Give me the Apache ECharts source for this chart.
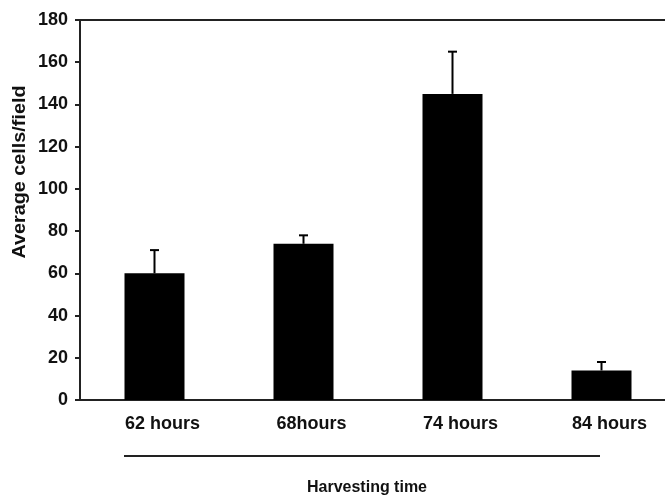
<!DOCTYPE html>
<html>
<head>
<meta charset="utf-8">
<script src="https://cdn.jsdelivr.net/npm/echarts@6/dist/echarts.min.js"></script>
<style>html,body{margin:0;padding:0;background:#fff;}#c{width:665px;height:497px;}</style>
</head>
<body>
<div id="c"></div>
<script>
var categories = ['62 hours', '68hours', '74 hours', '84 hours'];
var means = [60, 74, 145, 14];
var errTop = [71, 78, 165, 18];
var yTicks = [0, 20, 40, 60, 80, 100, 120, 140, 160, 180];

var FONT = '"Liberation Sans", Arial, sans-serif';
var chart = echarts.init(document.getElementById('c'), null, {renderer: 'canvas'});
var catIdx = categories.map(function (c, i) { return i; });
var barData = categories.map(function (c, i) { return [i, means[i]]; });
var errData = categories.map(function (c, i) { return [i, means[i], errTop[i]]; });
// x scale: 149 px per category, grid runs from x=80 to the right edge (clipped in the original)
var xMin = -0.5, xMax = -0.5 + 585 / 149;

chart.setOption({
  animation: false,
  backgroundColor: '#fff',
  grid: {left: 80, top: 20, right: 0, bottom: 97, containLabel: false},
  xAxis: [{
    type: 'value', min: xMin, max: xMax, position: 'bottom',
    splitLine: {show: false},
    axisLine: {show: true, onZero: false, lineStyle: {color: '#222', width: 2}},
    axisTick: {show: false},
    axisLabel: {
      customValues: catIdx, color: '#111', fontFamily: FONT, fontWeight: 'bold', fontSize: 18, margin: 15,
      padding: [0, 0, 0, 16],
      formatter: function (v) { return categories[Math.round(v)]; }
    }
  }, {
    type: 'value', min: xMin, max: xMax, position: 'top',
    splitLine: {show: false},
    axisLine: {show: true, onZero: false, lineStyle: {color: '#222', width: 2}},
    axisTick: {show: false}, axisLabel: {show: false}
  }],
  yAxis: {
    type: 'value', min: yTicks[0], max: yTicks[yTicks.length - 1], interval: 20, position: 'left',
    axisLine: {show: true, onZero: false, lineStyle: {color: '#222', width: 2}},
    axisTick: {show: true, length: 5, lineStyle: {color: '#222', width: 2}},
    splitLine: {show: false},
    axisLabel: {color: '#111', fontFamily: FONT, fontWeight: 'bold', fontSize: 18, margin: 12}
  },
  series: [
    {type: 'bar', xAxisIndex: 0, data: barData, barWidth: 60, itemStyle: {color: '#000'}, z: 2},
    {
      type: 'custom', xAxisIndex: 0, data: errData, z: 3,
      renderItem: function (params, api) {
        var x = api.value(0);
        var base = api.coord([x, api.value(1)]);
        var top = api.coord([x, api.value(2)]);
        return {type: 'group', children: [
          {type: 'line', shape: {x1: base[0], y1: base[1], x2: top[0], y2: top[1]}, style: {stroke: '#000', lineWidth: 2}},
          {type: 'line', shape: {x1: top[0] - 4.5, y1: top[1], x2: top[0] + 4.5, y2: top[1]}, style: {stroke: '#000', lineWidth: 2}}
        ]};
      }
    }
  ],
  graphic: [
    {type: 'line', shape: {x1: 124, y1: 456, x2: 600, y2: 456}, style: {stroke: '#222', lineWidth: 2}},
    {type: 'text', x: 367, y: 488, style: {text: 'Harvesting time', font: 'bold 16px ' + FONT, fill: '#111', textAlign: 'center', textVerticalAlign: 'middle'}},
    {type: 'text', x: 20, y: 172, rotation: Math.PI / 2, scaleX: 1.1, style: {text: 'Average cells/field', font: 'bold 18px ' + FONT, fill: '#111', textAlign: 'center', textVerticalAlign: 'middle'}}
  ]
});
</script>
</body>
</html>
